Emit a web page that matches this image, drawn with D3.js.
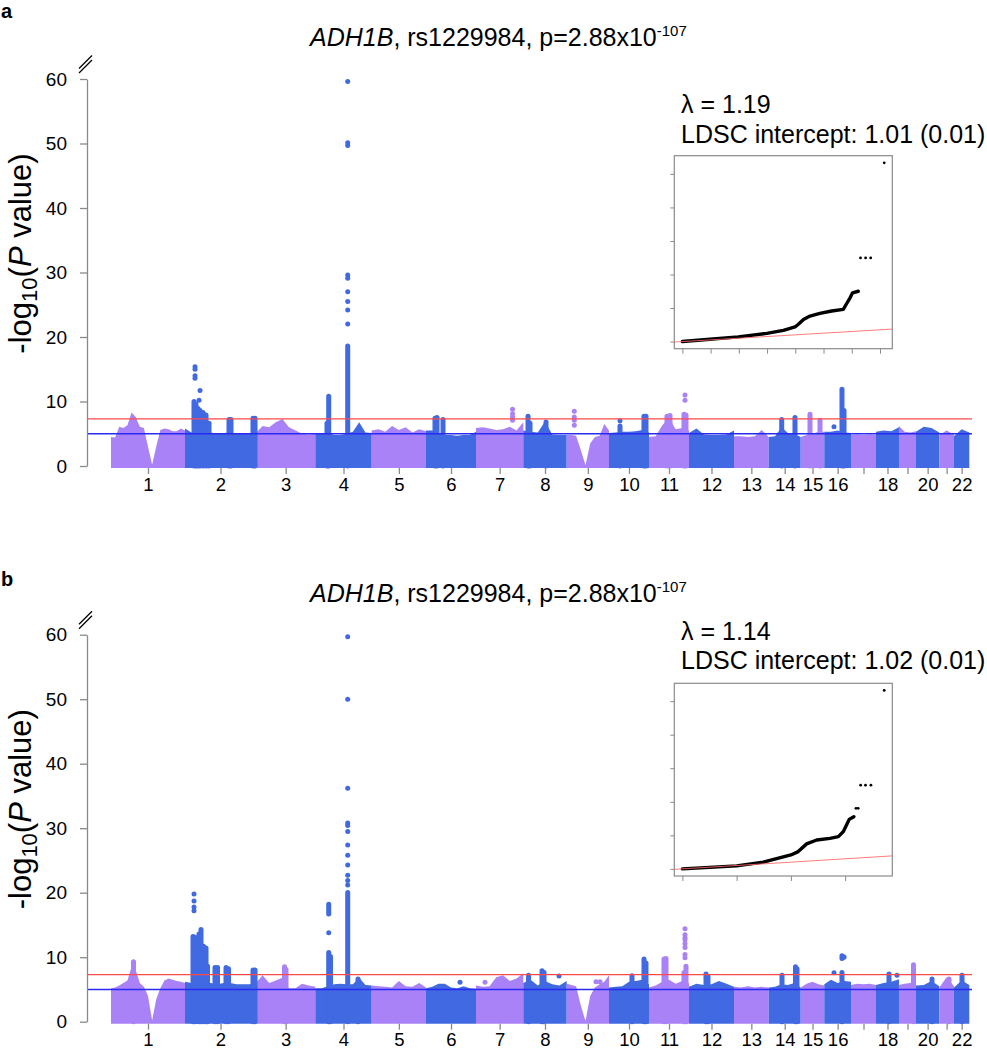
<!DOCTYPE html>
<html><head><meta charset="utf-8">
<script src="https://cdn.jsdelivr.net/npm/d3@7"></script>
<style>body{margin:0;background:#fff}svg{display:block}</style>
</head><body>
<script>
// ---------------- DATA ----------------
const chromosomes = d3.range(1, 23);
// plotted span of each chromosome (Mb)
const chromSpanMb = [248.5, 238.4, 199.1, 189.4, 182.3, 167.9, 158.8, 145.7, 142.0, 134.3, 134.3,
                     151.1, 116.5, 107.5, 79.2, 89.7, 83.9, 77.2, 57.1, 78.2, 49.4, 51.4];
const chromTickLabels = ["1","2","3","4","5","6","7","8","9","10","11","12","13","14","15","16","","18","","20","","22"];
const yTicks = [0, 10, 20, 30, 40, 50, 60];
const sigLine = 7.3, suggLine = 5;
const qqYTicks = [0, 20, 40, 60, 80, 100];

// Panel a
const titleA = {gene: "ADH1B", rest: ", rs1229984, p=2.88x10", exp: "-107"};
const lambdaA = "λ = 1.19";
const ldscA = "LDSC intercept: 1.01 (0.01)";
// upper edge of the dense mass of points in each chromosome (-log10 P), evenly spaced along it
const envA = [
 [4.5,4.4,6.1,5.9,6.3,8.3,7.6,6.1,5.9,3.0,0.2,3.0,5.6,5.8,5.7,5.4,5.4,5.8,5.5],
 [5.8,5.2,5.4,5.3,5.2,5.0,5.1,5.2,5.0,5.0,5.0,5.1],
 [5.1,6.2,6.0,6.8,7.3,6.0,5.5,5.0,4.9,5.0],
 [5.0,5.0,5.2,4.8,4.8,5.0,5.3,6.8,5.2,5.1],
 [5.5,5.7,5.3,6.2,5.6,6.0,5.2,5.7,5.4],
 [5.5,5.5,5.0,4.8,4.8,4.7,4.8,4.8,5.3],
 [5.9,6.0,5.8,5.6,5.7,6.1,5.5,6.8],
 [5.5,5.3,5.2,6.9,4.9,4.8,4.8],
 [4.8,4.8,4.7,2.5,0.1,3.5,4.5,4.7,6.5,5.5],
 [5.1,5.2,5.3,5.3,5.4,5.6,5.2],
 [4.5,4.6,6.3,7.5,5.7,5.9,5.5],
 [5.1,5.8,4.9,4.8,4.8,4.9,5.5],
 [4.6,4.6,4.5,4.6,5.6,4.5],
 [4.5,4.6,6.0,5.1,5.0,4.5],
 [4.5,4.8,5.0,5.3,5.3],
 [5.3,5.3,5.5,5.2,5.1],
 [4.8,4.9,4.8,4.9,4.8],
 [5.3,5.5,5.4,6.0],
 [6.2,5.3,5.2,5.4],
 [5.3,6.1,5.9,5.2],
 [4.8,5.5,4.9],
 [4.6,5.7,5.2]
];
// dense vertical stacks of points: [chr, position Mb, top, bottom]
const towersA = [
 [2,30.2,10.4,0],[2,36.9,10.0,0],[2,43.7,9.3,0],[2,50.4,9.0,0],[2,60.4,8.7,0],[2,70.5,8.3,0],[2,80.6,7.0,0],
 [2,147.7,7.6,0],[2,154.5,7.6,0],[2,228.3,7.8,0],[2,235.1,7.8,0],
 [4,39.3,7.0,0],[4,45.0,11.2,0],[4,108.8,19.0,0],
 [6,30.2,7.8,0],[6,36.9,7.9,0],[6,57.1,7.6,0],
 [8,15.8,8.1,0],[8,22.5,7.0,0],[8,76.2,7.2,0],
 [10,36.9,6.6,0],[10,117.5,8.1,0],[10,124.2,8.1,0],
 [11,60.4,8.1,0],[11,70.5,8.2,0],[11,117.5,8.4,0],[11,124.2,8.3,0],
 [14,43.7,7.6,0],[14,88.3,7.9,0],
 [15,31.2,8.4,0],[15,64.8,7.5,0],
 [16,59.4,12.3,0],[16,66.2,9.0,0]
];
// single points: [chr, position Mb, -log10 P]
const dotsA = [
 [2,33.6,15.4],[2,33.6,15.0],[2,33.6,14.0],[2,33.6,13.6],[2,50.4,11.7],[2,47.0,10.2],
 [4,108.8,59.6],[4,108.8,50.1],[4,108.8,49.7],[4,108.8,29.6],[4,108.8,29.1],[4,108.8,27.0],
 [4,108.8,25.5],[4,108.8,24.2],[4,108.8,22.0],
 [7,122.6,8.8],[7,122.6,8.1],[7,122.6,7.6],[7,122.6,7.1],
 [9,25.5,8.5],[9,25.5,7.6],[9,25.5,7.1],[9,25.5,6.3],
 [10,36.9,7.0],
 [11,120.9,11.0],[11,120.9,10.2],
 [16,32.6,6.1]
];
// QQ plot: [expected, observed]
const qqLineA = [[0,0],[0.98,1.4],[1.98,2.8],[2.99,4.9],[3.58,6.7],[3.99,8.7],[4.11,10.3],[4.29,13.2],
 [4.52,15.2],[4.87,16.8],[5.29,18.2],[5.7,19.2],[5.8,22.1],[5.94,26.1],[6.03,29.1],[6.23,30.0]];
const qqDotsA = [[6.31,49.9],[6.49,49.9],[6.67,49.9],[7.15,106.6]];
const qqXTicksA = [0,1,2,3,4,5,6,7];

// Panel b
const titleB = {gene: "ADH1B", rest: ", rs1229984, p=2.88x10", exp: "-107"};
const lambdaB = "λ = 1.14";
const ldscB = "LDSC intercept: 1.02 (0.01)";
const envB = [
 [5.2,5.3,5.6,6.0,6.4,8.5,8.0,6.0,5.4,4.0,0.2,3.5,5.2,6.4,6.7,6.5,6.3,6.2,6.0],
 [6.2,6.0,6.0,6.0,6.0,5.8,6.0,6.0,5.8,5.8,5.8,6.0],
 [6.0,7.2,6.0,6.4,6.8,5.2,5.2,5.9,5.6,5.4],
 [5.2,5.2,5.5,5.8,5.9,5.8,5.8,6.8,5.7,5.6],
 [5.6,5.5,5.4,5.3,6.3,5.5,5.4,6.0,5.3],
 [5.2,5.4,5.9,5.9,5.3,5.2,5.5,5.2,5.1],
 [5.6,5.4,5.5,6.9,7.2,6.3,6.7,7.5],
 [6.0,6.5,5.6,6.3,5.8,5.6,6.3],
 [5.9,5.7,5.5,2.5,0.1,4.0,5.3,5.8,6.2,7.2],
 [5.3,5.4,5.5,6.2,6.3,6.5,5.8],
 [5.3,5.6,6.2,6.5,5.9,6.3,6.0],
 [5.4,5.9,5.7,5.8,6.3,5.9,5.4],
 [5.4,5.3,5.5,5.3,5.4,5.3],
 [5.3,5.4,5.8,5.7,6.0,5.3],
 [5.3,5.9,6.2,5.8,5.6],
 [5.8,6.5,6.0,6.3,6.2],
 [5.7,5.9,5.8,5.9,5.7],
 [5.7,6.0,6.2,6.6],
 [5.7,5.9,6.0,6.5],
 [5.6,5.7,6.3,5.5],
 [5.3,6.9,5.5],
 [5.3,6.4,5.7]
];
const towersB = [
 [1,75.6,9.7,0],
 [2,26.9,13.6,0],[2,33.6,13.5,0],[2,47.0,14.0,0],[2,53.7,14.7,0],[2,62.1,12.1,0],[2,70.5,11.8,0],[2,75.6,9.0,0],
 [2,100.7,8.8,0],[2,109.1,8.8,0],[2,137.7,8.8,0],[2,146.1,8.6,0],[2,228.3,8.4,0],[2,235.1,8.4,0],
 [3,95.7,8.9,0],[3,100.7,8.5,0],
 [4,45.0,11.1,0],[4,51.0,10.5,0],[4,45.0,18.6,16.3],[4,108.8,20.4,0],[4,143.4,7.0,0],
 [8,17.5,7.6,0],[8,62.8,8.3,0],[8,69.5,8.0,0],
 [10,77.2,7.5,0],[10,117.5,10.1,0],[10,124.2,9.5,0],
 [11,50.4,10.1,0],[11,57.1,10.2,0],[11,117.5,8.0,0],[11,124.2,9.0,0],
 [12,57.1,7.8,0],[12,63.8,7.4,0],
 [14,44.7,7.6,0],[14,90.0,8.9,0],[14,95.0,8.6,0],
 [16,59.4,8.0,0],[16,59.4,10.6,9.4],[16,66.2,10.4,9.6],
 [18,43.7,7.8,0],
 [19,48.7,9.2,0],
 [20,53.7,7.0,0],
 [21,32.6,7.0,0],
 [22,26.9,7.6,0]
];
const dotsB = [
 [2,30.2,19.8],[2,30.2,18.7],[2,30.2,17.8],[2,30.2,17.2],
 [4,45.0,13.8],
 [4,108.8,59.7],[4,108.8,50.0],[4,108.8,36.2],[4,108.8,30.8],[4,108.8,30.4],[4,108.8,29.5],[4,108.8,27.4],
 [4,108.8,25.8],[4,108.8,24.3],[4,108.8,22.7],[4,108.8,21.9],[4,108.8,21.2],
 [6,114.2,6.1],[7,30.2,6.1],[8,119.9,7.1],[9,98.4,6.2],[9,111.8,6.2],
 [11,120.9,14.4],[11,120.9,13.5],[11,120.9,13.0],[11,120.9,12.7],[11,120.9,12.1],[11,120.9,11.5],
 [11,120.9,10.4],[11,120.9,9.9],
 [16,32.6,7.6],[18,70.5,7.2]
];
const qqLineB = [[0,0],[2.0,1.8],[2.98,4.0],[4.0,8.3],[4.27,10.3],[4.58,14.9],[4.95,17.2],[5.44,18.2],
 [5.75,19.2],[5.93,22.2],[6.05,26.1],[6.15,29.5],[6.32,31.1]];
const qqDotsB = [[6.4,36.1],[6.48,36.1],[6.57,49.9],[6.75,49.9],[6.95,49.9],[7.44,106.4]];
const qqXTicksB = [0,2,4,6];

// ---------------- DRAWING ----------------
const W = 987, H = 1050;
const FONT = "'Liberation Sans', Arial, Helvetica, sans-serif";
const svg = d3.select("body").append("svg").attr("width", W).attr("height", H)
  .style("font-family", FONT);

const chromStart = d3.cumsum([0].concat(chromSpanMb)).slice(0, 23);
const totalMb = d3.sum(chromSpanMb);
const x = d3.scaleLinear().domain([0, totalMb]).range([111, 969.3]);
const chromColor = i => (i % 2 === 0 ? "#A982F8" : "#4169E1");
const gpos = (c, p) => chromStart[c - 1] + p;

function drawPanel(P) {
  const off = P.off;
  const g = svg.append("g");
  const y = d3.scaleLinear().domain([0, 60]).range([466 + off, 79 + off]);

  // panel letter
  g.append("text").attr("x", 1).attr("y", P.letterY).style("font-weight", "bold")
    .style("font-size", "20px").text(P.letter);

  // title
  const t = g.append("text").attr("x", 310).attr("y", 46 + off).style("font-size", "25px");
  t.append("tspan").style("font-style", "italic").text(P.title.gene);
  t.append("tspan").text(P.title.rest);
  t.append("tspan").attr("dy", -10).style("font-size", "15px").text(P.title.exp);

  // dense masses
  const area = d3.area().x(d => x(d[0])).y0(y(0) + 2).y1(d => y(d[1]));
  P.env.forEach((hs, i) => {
    const n = hs.length;
    const pts = hs.map((h, j) => [chromStart[i] + chromSpanMb[i] * j / (n - 1), h]);
    g.append("path").datum(pts).attr("fill", chromColor(i)).attr("d", area);
  });
  // towers
  g.selectAll(null).data(P.towers).join("line")
    .attr("x1", d => x(gpos(d[0], d[1]))).attr("x2", d => x(gpos(d[0], d[1])))
    .attr("y1", d => d[3] > 0 ? y(d[3]) - 2.5 : y(0)).attr("y2", d => y(d[2]) + 2.5)
    .attr("stroke", d => chromColor(d[0] - 1)).attr("stroke-width", 5).attr("stroke-linecap", "round");
  // dots
  g.selectAll(null).data(P.dots).join("circle")
    .attr("cx", d => x(gpos(d[0], d[1]))).attr("cy", d => y(d[2])).attr("r", 2.5)
    .attr("fill", d => chromColor(d[0] - 1));

  // threshold lines
  g.append("line").attr("x1", 87).attr("x2", 972).attr("y1", y(sigLine)).attr("y2", y(sigLine))
    .attr("stroke", "#ff4a4a").attr("stroke-width", 1.4);
  g.append("line").attr("x1", 87).attr("x2", 972).attr("y1", y(suggLine)).attr("y2", y(suggLine))
    .attr("stroke", "#2a2af5").attr("stroke-width", 1.4);

  // y axis
  const ya = g.append("g").attr("transform", "translate(87,0)")
    .call(d3.axisLeft(y).tickValues(yTicks).tickSize(7).tickSizeOuter(0).tickPadding(13));
  ya.select(".domain").attr("stroke", "#8a8a8a").attr("stroke-width", 1.3);
  ya.selectAll(".tick line").attr("stroke", "#8a8a8a").attr("stroke-width", 1.3);
  ya.selectAll(".tick text").style("font-size", "19px").style("font-family", FONT).attr("fill", "#000");
  // axis break marks
  [0, -4.5].forEach(dy => g.append("line")
    .attr("x1", 79).attr("y1", y(60) - 6 + dy).attr("x2", 92).attr("y2", y(60) - 19 + dy)
    .attr("stroke", "#000").attr("stroke-width", 1.3));

  // y label
  const yl = g.append("text").attr("transform", `translate(31,${253.5 + off}) rotate(-90)`)
    .attr("text-anchor", "middle").style("font-size", "31px");
  yl.append("tspan").text("-log");
  yl.append("tspan").attr("dy", 6).style("font-size", "22px").text("10");
  yl.append("tspan").attr("dy", -6).text("(");
  yl.append("tspan").style("font-style", "italic").text("P");
  yl.append("tspan").text(" value)");

  // x axis (ticks at chromosome centres)
  const mids = chromosomes.map((c, i) => chromStart[i] + chromSpanMb[i] / 2);
  const xa = g.append("g").attr("transform", `translate(0,${y(0) + 2})`)
    .call(d3.axisBottom(x).tickValues(mids).tickFormat((d, i) => chromTickLabels[i]).tickSize(6).tickPadding(3.5));
  xa.select(".domain").remove();
  xa.selectAll(".tick line").attr("stroke", "#8a8a8a").attr("stroke-width", 1.3);
  xa.selectAll(".tick text").style("font-size", "18.5px").style("font-family", FONT).attr("fill", "#000");

  // inset text
  g.append("text").attr("x", 681).attr("y", P.lamY).style("font-size", "25px").text(P.lambda);
  g.append("text").attr("x", 681).attr("y", P.lamY + P.lineGap).style("font-size", "25px").text(P.ldsc);

  // QQ inset
  const box = P.box;
  const all = P.qqLine.concat(P.qqDots);
  const xe = d3.extent(all, d => d[0]), ye = d3.extent(all, d => d[1]);
  const px = (xe[1] - xe[0]) * 0.04, py = (ye[1] - ye[0]) * 0.04;
  const qx = d3.scaleLinear().domain([xe[0] - px, xe[1] + px]).range([box.x0, box.x1]);
  const qy = d3.scaleLinear().domain([ye[0] - py, ye[1] + py]).range([box.y1, box.y0]);
  const q = g.append("g");
  q.append("rect").attr("x", box.x0).attr("y", box.y0).attr("width", box.x1 - box.x0)
    .attr("height", box.y1 - box.y0).attr("fill", "none").attr("stroke", "#8a8a8a").attr("stroke-width", 1.2);
  const qxa = q.append("g").attr("transform", `translate(0,${box.y1})`)
    .call(d3.axisBottom(qx).tickValues(P.qqXTicks).tickSize(5).tickFormat(""));
  qxa.select(".domain").remove();
  qxa.selectAll(".tick line").attr("stroke", "#8a8a8a");
  const qya = q.append("g").attr("transform", `translate(${box.x0},0)`)
    .call(d3.axisLeft(qy).tickValues(qqYTicks).tickSize(4).tickFormat(""));
  qya.select(".domain").remove();
  qya.selectAll(".tick line").attr("stroke", "#8a8a8a");
  q.append("path").datum(P.qqLine).attr("fill", "none").attr("stroke", "#000")
    .attr("stroke-width", 3.4).attr("stroke-linejoin", "round").attr("stroke-linecap", "round")
    .attr("d", d3.line().x(d => qx(d[0])).y(d => qy(d[1])));
  q.selectAll(null).data(P.qqDots).join("circle").attr("cx", d => qx(d[0])).attr("cy", d => qy(d[1]))
    .attr("r", 1.4).attr("fill", "#000");
  const dmin = qx.domain()[0], dmax = qx.domain()[1];
  q.append("line").attr("x1", qx(dmin)).attr("y1", qy(dmin)).attr("x2", qx(dmax)).attr("y2", qy(dmax))
    .attr("stroke", "#ff6666").attr("stroke-width", 1).attr("opacity", 0.85);
}

drawPanel({off: 0, letter: "a", letterY: 18, title: titleA, env: envA, towers: towersA, dots: dotsA,
  lambda: lambdaA, ldsc: ldscA, lamY: 113, lineGap: 30,
  box: {x0: 674.3, x1: 892.3, y0: 155.7, y1: 348.7},
  qqLine: qqLineA, qqDots: qqDotsA, qqXTicks: qqXTicksA});
drawPanel({off: 555.7, letter: "b", letterY: 586, title: titleB, env: envB, towers: towersB, dots: dotsB,
  lambda: lambdaB, ldsc: ldscB, lamY: 640, lineGap: 28.5,
  box: {x0: 674.3, x1: 892.3, y0: 683.3, y1: 876},
  qqLine: qqLineB, qqDots: qqDotsB, qqXTicks: qqXTicksB});
</script>
</body></html>
